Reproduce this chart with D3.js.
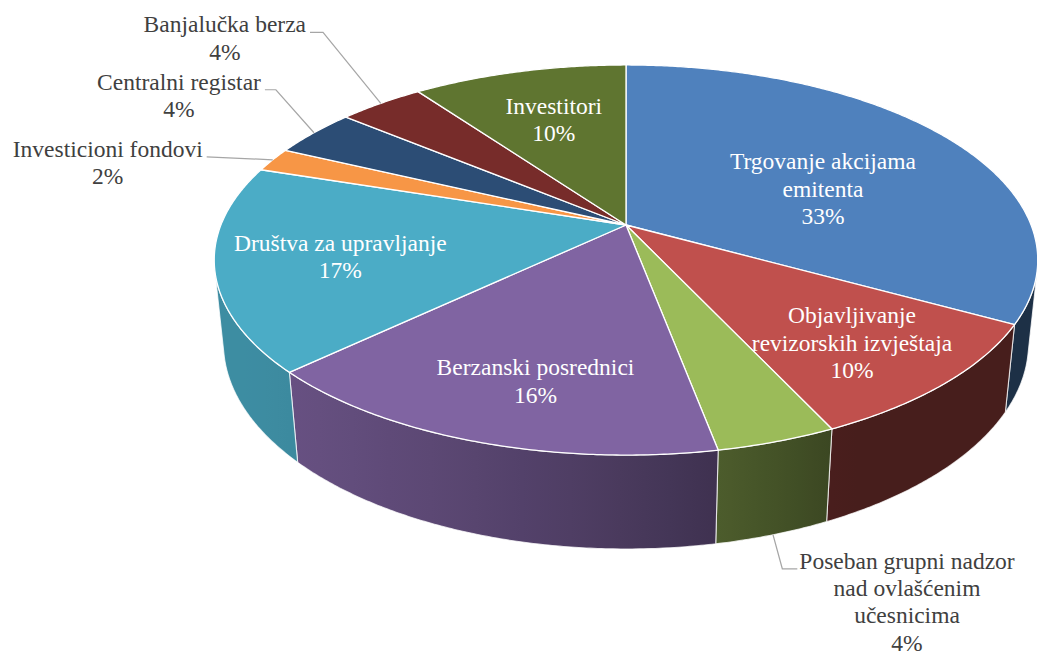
<!DOCTYPE html>
<html>
<head>
<meta charset="utf-8">
<script src="https://cdn.jsdelivr.net/npm/d3@7"></script>
<style>
  body { margin: 0; background: #fff; }
  svg { display: block; }
  .lbl { font-family: "Liberation Serif", Tinos, "Times New Roman", Times, "DejaVu Serif", serif; }
</style>
</head>
<body>
<svg id="chart" width="1037" height="655"></svg>
<script>
// data
const categories = [
    "Trgovanje akcijama emitenta",
    "Objavljivanje revizorskih izvještaja",
    "Poseban grupni nadzor nad ovlašćenim učesnicima",
    "Berzanski posrednici",
    "Društva za upravljanje",
    "Investicioni fondovi",
    "Centralni registar",
    "Banjalučka berza",
    "Investitori"
];
const labelLines = [
    ["Trgovanje akcijama", "emitenta"],
    ["Objavljivanje", "revizorskih izvještaja"],
    ["Poseban grupni nadzor", "nad ovlašćenim", "učesnicima"],
    ["Berzanski posrednici"],
    ["Društva za upravljanje"],
    ["Investicioni fondovi"],
    ["Centralni registar"],
    ["Banjalučka berza"],
    ["Investitori"]
];
const values = [33, 10, 4, 16, 17, 2, 4, 4, 10];
const colors = ["#4F81BD", "#C0504D", "#9BBB59", "#8064A2", "#4BACC6", "#F79646", "#2C4D75", "#772C2A", "#5F7530"];

// label placement: inside = centre offset from slice anchor, outside = first baseline offset + leader
const labelLayout = [
    {inside: true, dx: -17, dy: 23},
    {inside: true, dx: 29, dy: 20},
    {inside: false, dx: 134, dy: 34, side: "right", elbow: 15, wall: true},
    {inside: true, dx: 1, dy: 25},
    {inside: true, dx: -22, dy: 4},
    {inside: false, dx: -165, dy: -3, side: "left", elbow: 0},
    {inside: false, dx: -135, dy: -43, side: "left", elbow: 11},
    {inside: false, dx: -156, dy: -71, side: "left", elbow: 13},
    {inside: true, dx: 1, dy: 0}
];

const svg = d3.select("#chart");
const defs = svg.append("defs");

// simple perspective projection of a tilted disc
const cx = 626, cy = 225, focal = 1997, camDist = 4.93;
const sinA = 0.466, cosA = 0.885, thick = 0.235;

function project(phi, k, h) {
    const X = k * Math.sin(phi), Z = -k * Math.cos(phi), Y = -h;
    const d = camDist - Z * cosA - Y * sinA;
    return [cx + focal * X / d, cy + focal * (Z * sinA - Y * cosA) / d];
}

const zMin = 1 / (camDist * cosA);
const visLo = Math.acos(-zMin), visHi = 2 * Math.PI - visLo;

function shade(phi) {
    const X = Math.sin(phi), Z = -Math.cos(phi);
    const dot = -0.894 * X + 0.447 * Z;
    return 0.37 + 0.45 * Math.max(0, dot);
}

function arcPoints(a0, a1, h) {
    const n = Math.max(2, Math.ceil(Math.abs(a1 - a0) / 0.008));
    return d3.range(n + 1).map(i => project(a0 + (a1 - a0) * i / n, 1, h));
}

const pie = d3.pie().sort(null).value(d => d);
const arcs = pie(values);
const total = d3.sum(values);
const pct = d3.format(".0%");

// side walls
const wallG = svg.append("g");
arcs.forEach((a, i) => {
    const s = Math.max(a.startAngle, visLo), e = Math.min(a.endAngle, visHi);
    if (e <= s) return;
    const top = arcPoints(s, e, 0);
    const bot = arcPoints(e, s, thick);
    const x1 = top[0][0], x2 = top[top.length - 1][0];
    const grad = defs.append("linearGradient")
        .attr("id", "wall" + i)
        .attr("gradientUnits", "userSpaceOnUse")
        .attr("x1", x1).attr("x2", x2).attr("y1", 0).attr("y2", 0);
    const base = d3.rgb(colors[i]);
    d3.range(11).forEach(j => {
        const phi = s + (e - s) * j / 10;
        const f = shade(phi);
        const x = project(phi, 1, 0)[0];
        grad.append("stop")
            .attr("offset", Math.abs(x2 - x1) < 1 ? j / 10 : (x - x1) / (x2 - x1))
            .attr("stop-color", d3.rgb(base.r * f, base.g * f, base.b * f));
    });
    wallG.append("path")
        .attr("d", d3.line()(top.concat(bot)) + "Z")
        .attr("fill", `url(#wall${i})`)
        .attr("stroke", "rgba(255,255,255,0.75)")
        .attr("stroke-width", 1.1)
        .attr("stroke-linejoin", "round");
});

// top face
const topG = svg.append("g");
arcs.forEach((a, i) => {
    const pts = [project(0, 0, 0)].concat(arcPoints(a.startAngle, a.endAngle, 0));
    topG.append("path")
        .attr("d", d3.line()(pts) + "Z")
        .attr("fill", colors[i])
        .attr("stroke", "#fff")
        .attr("stroke-width", 1.3)
        .attr("stroke-linejoin", "round");
});

// labels
const fontSize = 23.5, lineH = 27.3;
const labelG = svg.append("g")
    .attr("class", "lbl")
    .style("font-size", fontSize + "px");

arcs.forEach((a, i) => {
    const lay = labelLayout[i];
    const mid = (a.startAngle + a.endAngle) / 2;
    const lines = labelLines[i].concat([pct(values[i] / total)]);
    if (lay.inside) {
        const [ax, ay] = project(mid, 0.65, 0);
        const x = ax + lay.dx, yc = ay + lay.dy;
        const y0 = yc - (lines.length - 1) * lineH / 2 + fontSize * 0.33;
        const t = labelG.append("text").attr("text-anchor", "middle").attr("fill", "#fff");
        lines.forEach((l, j) => t.append("tspan").attr("x", x).attr("y", y0 + j * lineH).text(l));
    } else {
        const [ax, ay] = project(mid, 1, lay.wall ? thick : 0);
        const x = ax + lay.dx, y0 = ay + lay.dy;
        const t = labelG.append("text").attr("text-anchor", "middle").attr("fill", "#404040");
        lines.forEach((l, j) => t.append("tspan").attr("x", x).attr("y", y0 + j * lineH).text(l));
        const w = d3.max(t.selectAll("tspan").nodes(), n => n.getComputedTextLength());
        let end, elbow;
        if (lay.side === "left") {
            end = x + w / 2 + 4;
            elbow = end + lay.elbow;
        } else {
            end = x - w / 2 - 2;
            elbow = end - lay.elbow;
        }
        const pts = [[ax, ay], [elbow, y0], [end, y0]];
        labelG.append("path")
            .attr("d", d3.line()(pts))
            .attr("fill", "none")
            .attr("stroke", "#A6A6A6")
            .attr("stroke-width", 1.2);
    }
});
</script>
</body>
</html>
